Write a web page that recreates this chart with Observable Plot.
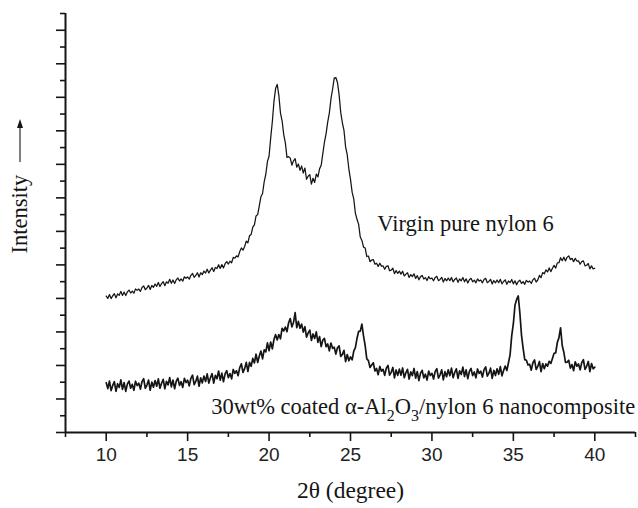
<!DOCTYPE html>
<html>
<head>
<meta charset="utf-8">
<script src="https://cdn.jsdelivr.net/npm/d3@7"></script>
<script src="https://cdn.jsdelivr.net/npm/@observablehq/plot@0.6"></script>
<style>
  html, body { margin: 0; padding: 0; background: #fff; }
</style>
</head>
<body>
<div id="chart"></div>
<script>
// 2θ sampling grid (degrees): 10.0 to 40.0 in 0.1° steps
const thetaStart = 10;
const thetaStep = 0.1;

// Virgin pure nylon 6 — intensity (arbitrary units), one value per 0.1°
const virginNylon = [
  8.14,8.00,8.23,7.99,8.16,8.28,8.04,8.27,8.19,8.42,
  8.18,8.38,8.17,8.39,8.50,8.32,8.44,8.31,8.57,8.48,
  8.56,8.42,8.65,8.75,8.52,8.62,8.78,8.53,8.77,8.66,
  8.86,8.72,8.95,8.71,8.88,9.00,8.76,8.99,8.91,9.14,
  8.90,9.10,8.89,9.11,9.22,9.04,9.16,9.03,9.29,9.20,
  9.28,9.15,9.38,9.49,9.26,9.37,9.53,9.28,9.53,9.42,
  9.63,9.51,9.74,9.52,9.69,9.83,9.61,9.84,9.78,10.01,
  9.79,10.02,9.82,10.07,10.20,10.05,10.22,10.13,10.45,10.40,
  10.54,10.48,10.80,11.01,10.88,11.10,11.42,11.32,11.74,11.82,
  12.25,12.39,12.92,13.00,13.52,14.07,14.26,14.96,15.41,16.16,
  16.50,17.58,18.54,19.74,20.52,20.77,20.12,19.06,18.60,17.78,
  17.28,16.41,16.46,16.37,15.95,16.21,16.34,15.83,16.02,15.64,
  15.90,15.48,15.78,15.11,15.29,15.39,14.82,15.17,14.92,15.42,
  15.25,15.73,15.94,16.64,17.32,17.82,18.52,19.06,19.90,20.48,
  21.14,21.18,20.88,20.16,19.10,18.48,18.02,17.04,16.56,15.72,
  15.10,14.34,13.94,13.08,12.72,12.42,11.66,11.46,11.06,11.01,
  10.50,10.53,10.19,10.29,10.32,10.04,10.10,9.91,10.10,9.93,
  9.94,9.74,9.91,9.95,9.65,9.69,9.80,9.48,9.66,9.49,
  9.63,9.45,9.62,9.34,9.45,9.53,9.25,9.42,9.30,9.47,
  9.19,9.36,9.11,9.30,9.37,9.16,9.24,9.07,9.30,9.17,
  9.22,9.05,9.25,9.32,9.06,9.13,9.26,8.98,9.19,9.05,
  9.22,9.06,9.25,8.99,9.13,9.22,8.96,9.16,9.05,9.25,
  8.99,9.17,8.92,9.12,9.20,8.99,9.09,8.93,9.16,9.04,
  9.10,8.93,9.13,9.20,8.94,9.01,9.14,8.86,9.07,8.93,
  9.10,8.94,9.14,8.87,9.01,9.11,8.84,9.04,8.94,9.13,
  8.87,9.05,8.81,9.01,9.09,8.89,9.00,8.84,9.08,8.97,
  9.04,8.89,9.11,9.21,8.98,9.10,9.37,9.24,9.54,9.47,
  9.70,9.58,9.82,9.60,9.80,9.97,9.81,10.12,10.13,10.43,
  10.25,10.46,10.24,10.45,10.54,10.32,10.39,10.19,10.39,10.23,
  10.24,10.04,10.20,10.24,9.94,9.98,10.08,9.76,9.94,9.76,
  9.80
];

// 30wt% coated α-Al2O3/nylon 6 nanocomposite — intensity, one value per 0.1°
const composite = [
  2.97,2.62,3.07,2.50,2.81,3.03,2.46,2.91,2.69,3.14,
  2.57,2.98,2.45,2.90,3.07,2.64,2.87,2.52,3.06,2.80,
  2.94,2.59,3.04,3.21,2.64,2.83,3.13,2.52,3.01,2.70,
  3.10,2.76,3.20,2.64,2.94,3.17,2.61,3.05,2.84,3.28,
  2.72,3.13,2.61,3.06,3.24,2.81,3.03,2.69,3.23,2.98,
  3.12,2.78,3.23,3.42,2.86,3.05,3.36,2.76,3.26,2.96,
  3.37,3.04,3.50,2.95,3.27,3.51,2.95,3.41,3.21,3.67,
  3.12,3.54,3.03,3.50,3.69,3.27,3.52,3.20,3.76,3.53,
  3.69,3.39,3.88,4.10,3.58,3.81,4.18,3.64,4.19,3.95,
  4.42,4.15,4.67,4.18,4.56,4.86,4.39,4.93,4.81,5.35,
  4.88,5.40,4.99,5.55,5.84,5.52,5.84,5.59,6.22,6.06,
  6.29,6.02,6.55,6.80,6.30,6.56,7.15,6.25,6.63,6.22,
  6.47,5.99,6.31,5.69,5.94,6.11,5.49,5.88,5.61,6.00,
  5.38,5.72,5.13,5.51,5.62,5.12,5.28,4.87,5.34,5.02,
  5.09,4.68,5.06,5.17,4.54,4.66,4.90,4.23,4.65,4.28,
  4.51,4.33,4.86,5.07,5.62,6.03,6.05,6.47,5.76,5.18,
  4.39,4.29,3.88,4.03,4.16,3.67,3.82,3.45,3.94,3.66,
  3.77,3.41,3.84,4.00,3.42,3.59,3.88,3.26,3.73,3.41,
  3.78,3.42,3.85,3.27,3.56,3.77,3.19,3.62,3.39,3.82,
  3.24,3.64,3.10,3.54,3.71,3.26,3.48,3.13,3.66,3.40,
  3.53,3.19,3.63,3.81,3.25,3.44,3.74,3.14,3.63,3.33,
  3.74,3.39,3.84,3.27,3.58,3.80,3.23,3.68,3.46,3.90,
  3.34,3.74,3.21,3.65,3.82,3.39,3.61,3.26,3.79,3.53,
  3.66,3.31,3.75,3.92,3.36,3.54,3.84,3.23,3.71,3.40,
  3.80,3.47,3.93,3.38,3.70,3.96,3.70,4.16,4.65,5.78,
  6.49,7.59,7.93,8.15,7.13,5.81,5.02,4.35,4.31,4.03,
  4.07,3.72,4.16,4.33,3.76,3.94,4.24,3.63,4.11,3.80,
  4.09,3.96,4.25,4.12,4.42,4.73,4.75,5.37,5.66,6.25,
  5.19,4.79,4.18,4.20,4.31,3.84,4.05,3.69,4.22,3.96,
  4.09,3.74,4.17,4.34,3.77,3.95,4.24,3.63,4.11,3.80,
  3.90
];

// Axis ticks
const xMajorTicks = [10, 15, 20, 25, 30, 35, 40];
const xMinorTicks = [7.5, 12.5, 17.5, 22.5, 27.5, 32.5, 37.5, 42.5];
const yMajorTicks = [0, 2, 4, 6, 8, 10, 12, 14, 16, 18, 20, 22, 24];
const yMinorTicks = [1, 3, 5, 7, 9, 11, 13, 15, 17, 19, 21, 23, 25];

// Text
const xLabel = "2θ (degree)";
const yLabel = "Intensity";
const seriesLabels = ["Virgin pure nylon 6", "30wt% coated α-Al2O3/nylon 6 nanocomposite"];

const toRows = (arr) => arr.map((v, i) => ({theta: +(thetaStart + i * thetaStep).toFixed(1), intensity: v}));
const virginRows = toRows(virginNylon);
const compositeRows = toRows(composite);

const serif = "'Liberation Serif', 'Times New Roman', Times, serif";
const sans = "'Liberation Sans', Arial, Helvetica, sans-serif";
const ink = "#151515";

const chart = Plot.plot({
  width: 638,
  height: 508,
  marginLeft: 65,
  marginRight: 3,
  marginTop: 13,
  marginBottom: 76,
  style: {background: "#fff", fontFamily: sans, color: ink},
  x: {domain: [7.5, 42.5]},
  y: {domain: [0, 25]},
  marks: [
    Plot.axisX({ticks: xMajorTicks, tickSize: 9, tickPadding: 6, fontSize: 19, fontFamily: sans, fill: "#222", stroke: ink, strokeWidth: 1.6, label: null}),
    Plot.axisX({ticks: xMinorTicks, tickSize: 5, tickFormat: () => "", stroke: ink, strokeWidth: 1.6, label: null}),
    Plot.axisY({ticks: yMajorTicks, tickSize: 9, tickFormat: () => "", stroke: ink, strokeWidth: 1.6, label: null}),
    Plot.axisY({ticks: yMinorTicks, tickSize: 5, tickFormat: () => "", stroke: ink, strokeWidth: 1.6, label: null}),
    Plot.ruleY([0], {stroke: ink, strokeWidth: 2}),
    Plot.ruleX([7.5], {stroke: ink, strokeWidth: 2}),
    Plot.line(virginRows, {x: "theta", y: "intensity", stroke: ink, strokeWidth: 1.25}),
    Plot.line(compositeRows, {x: "theta", y: "intensity", stroke: ink, strokeWidth: 1.7}),
    Plot.text([seriesLabels[0]], {x: 26.65, y: 12.47, text: d => d, textAnchor: "start", fontSize: 22.5, fontFamily: serif, fill: ink}),
    Plot.text([seriesLabels[1]], {x: 16.45, y: 1.55, text: d => d, textAnchor: "start", fontSize: 22.5, fontFamily: serif, fill: ink}),
    Plot.text([xLabel], {frameAnchor: "bottom", dy: 65, text: d => d, fontSize: 23.5, fontFamily: serif, fill: ink})
  ]
});

// Subscripts in the composite label
for (const t of chart.querySelectorAll("text")) {
  if (t.textContent === seriesLabels[1]) {
    t.textContent = "";
    const parts = [["30wt% coated α-Al", 0, null], ["2", 7, 16], ["O", -7, null], ["3", 7, 16], ["/nylon 6 nanocomposite", -7, null]];
    for (const [s, dy, fs] of parts) {
      const ts = document.createElementNS("http://www.w3.org/2000/svg", "tspan");
      ts.textContent = s;
      if (dy) ts.setAttribute("dy", dy);
      if (fs) ts.setAttribute("font-size", fs);
      t.appendChild(ts);
    }
  }
}

// Y label (rotated) with its arrow
const svg = d3.select(chart);
svg.append("text")
  .attr("transform", "translate(20,214) rotate(-90)")
  .attr("text-anchor", "middle")
  .attr("dy", "0.33em")
  .attr("font-family", serif)
  .attr("font-size", 22.5)
  .attr("fill", ink)
  .text(yLabel);
svg.append("line").attr("x1", 20).attr("x2", 20).attr("y1", 162).attr("y2", 127)
  .attr("stroke", ink).attr("stroke-width", 1.1);
svg.append("path").attr("d", "M20,119 L17,128 L23,128 Z").attr("fill", ink);

document.getElementById("chart").appendChild(chart);
</script>
</body>
</html>
